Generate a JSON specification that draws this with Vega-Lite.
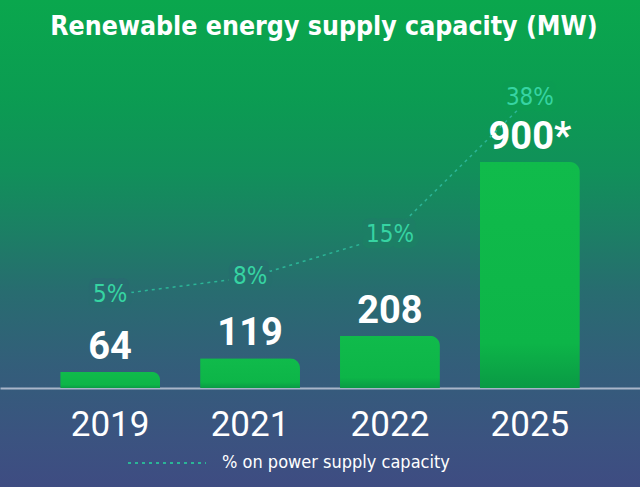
{
  "$schema": "https://vega.github.io/schema/vega-lite/v6.json",
  "width": 640,
  "height": 487,
  "autosize": {"type": "none"},
  "padding": 0,
  "background": "#3e4d82",
  "view": {
    "stroke": null,
    "fill": {
      "gradient": "linear", "x1": 0, "y1": 0, "x2": 0, "y2": 1,
      "stops": [
        {"offset": 0, "color": "#0aa74d"},
        {"offset": 0.2, "color": "#0b9c52"},
        {"offset": 0.35, "color": "#11905a"},
        {"offset": 0.47, "color": "#1b8064"},
        {"offset": 0.6, "color": "#286c70"},
        {"offset": 0.75, "color": "#335e7a"},
        {"offset": 0.9, "color": "#3b5380"},
        {"offset": 1, "color": "#3e4c82"}
      ]
    }
  },
  "title": {
    "text": "Renewable energy supply capacity (MW)",
    "orient": "top",
    "anchor": "middle",
    "frame": "group",
    "offset": -61,
    "baseline": "alphabetic",
    "font": "DejaVu Sans Condensed",
    "fontSize": 26.5,
    "fontWeight": "bold",
    "color": "white",
    "dx": 4
  },
  "data": {
    "values": [
      {"year": "2019", "mw": 64, "mwLabel": "64", "pct": 5, "pctLabel": "5%"},
      {"year": "2021", "mw": 119, "mwLabel": "119", "pct": 8, "pctLabel": "8%"},
      {"year": "2022", "mw": 208, "mwLabel": "208", "pct": 15, "pctLabel": "15%"},
      {"year": "2025", "mw": 900, "mwLabel": "900*", "pct": 38, "pctLabel": "38%"}
    ]
  },
  "encoding": {
    "x": {
      "field": "year",
      "type": "ordinal",
      "scale": {"paddingInner": 0.286, "paddingOuter": 0.43},
      "axis": {
        "title": null,
        "orient": "bottom",
        "offset": -99,
        "domainColor": "#a9b5c9",
        "domainWidth": 2,
        "ticks": false,
        "grid": false,
        "labelAngle": 0,
        "labelFont": "Roboto",
        "labelFontSize": 35,
        "labelColor": "white",
        "labelPadding": 19
      }
    }
  },
  "layer": [
    {
      "mark": {
        "type": "bar",
        "cornerRadiusTopRight": 10,
        "fill": {
          "gradient": "linear", "x1": 0, "y1": 0, "x2": 0, "y2": 1,
          "stops": [
            {"offset": 0, "color": "#10bb4b"},
            {"offset": 0.8, "color": "#0db548"},
            {"offset": 1, "color": "#0a9a45"}
          ]
        }
      },
      "encoding": {
        "y": {"field": "mw", "type": "quantitative", "scale": {"domain": [-394, 1545], "nice": false, "zero": false}, "axis": null}
      }
    },
    {
      "mark": {"type": "text", "dy": -13, "baseline": "alphabetic", "font": "Roboto", "fontWeight": "bold", "fontSize": 38, "fill": "white"},
      "encoding": {
        "y": {"field": "mw", "type": "quantitative", "scale": {"domain": [-394, 1545], "nice": false, "zero": false}, "axis": null},
        "text": {"field": "mwLabel"}
      }
    },
    {
      "mark": {"type": "line", "stroke": "#2bb597", "strokeWidth": 1.5},
      "encoding": {
        "y": {"field": "pct", "type": "quantitative", "scale": {"domain": [-27.1, 54.4], "nice": false, "zero": false}, "axis": null},
        "strokeDash": {
          "datum": "% on power supply capacity",
          "scale": {"range": [[3, 4]]},
          "legend": {
            "title": null,
            "orient": "none",
            "legendX": 127,
            "legendY": 423,
            "padding": 0,
            "symbolType": "stroke",
            "symbolSize": 6084,
            "symbolStrokeColor": "#2bb597",
            "symbolStrokeWidth": 2,
            "labelFont": "DejaVu Sans Condensed",
            "labelFontSize": 18,
            "labelFontWeight": "normal",
            "labelColor": "white",
            "labelOffset": 15,
            "labelLimit": 400
          }
        }
      }
    },
    {
      "mark": {"type": "text", "font": "DejaVu Sans Condensed", "fontSize": 24, "baseline": "middle", "strokeWidth": 12, "strokeJoin": "round"},
      "encoding": {
        "y": {"field": "pct", "type": "quantitative", "scale": {"domain": [-27.1, 54.4], "nice": false, "zero": false}, "axis": null},
        "text": {"field": "pctLabel"},
        "stroke": {
          "field": "pctLabel",
          "type": "nominal",
          "scale": {"domain": ["5%", "8%", "15%", "38%"], "range": ["#286b70", "#256f6d", "#1c7f65", "#0b9c52"]},
          "legend": null
        }
      }
    },
    {
      "mark": {"type": "text", "font": "DejaVu Sans Condensed", "fontSize": 24, "baseline": "middle", "fill": "#36d4a2"},
      "encoding": {
        "y": {"field": "pct", "type": "quantitative", "scale": {"domain": [-27.1, 54.4], "nice": false, "zero": false}, "axis": null},
        "text": {"field": "pctLabel"}
      }
    }
  ],
  "resolve": {"scale": {"y": "independent", "stroke": "independent", "strokeDash": "independent"}}
}
